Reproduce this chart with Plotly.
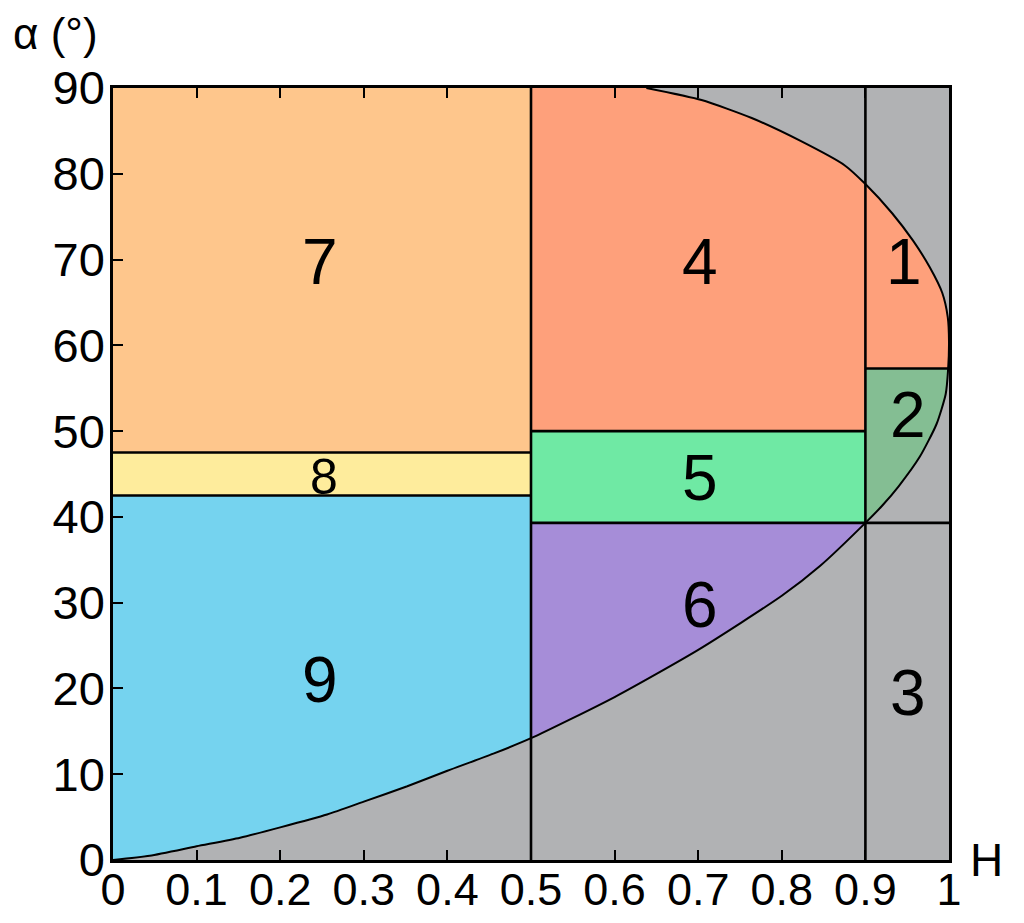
"""H-alpha classification plane with nine zones."""
import plotly.graph_objects as go

# feasible-region boundary
lower_h = [0.0, 0.044, 0.1, 0.152, 0.2, 0.256, 0.3, 0.352, 0.4, 0.455, 0.5, 0.6, 0.7,
           0.8, 0.846, 0.9, 0.92, 0.94, 0.965, 0.985, 0.996, 0.999, 1.0]
lower_a = [0.0, 0.5, 1.6, 2.6, 3.8, 5.3, 6.8, 8.6, 10.4, 12.4, 14.2, 19.0, 24.5,
           30.8, 34.3, 39.3, 41.3, 43.6, 47.0, 50.8, 54.3, 57.3, 60.5]
upper_h = [1.0, 0.9985, 0.992, 0.977, 0.957, 0.932, 0.9, 0.875, 0.823, 0.764, 0.704, 0.638]
upper_a = [60.5, 63.3, 66.1, 69.1, 72.2, 75.4, 78.8, 81.0, 83.8, 86.5, 88.6, 90.0]

# zone limits
h_mid, h_high = 0.5, 0.9
a_7_8, a_8_9 = 47.5, 42.5
a_4_5, a_5_6, a_1_2 = 50.0, 39.3, 57.3

zone_labels = ["1", "2", "3", "4", "5", "6", "7", "8", "9"]
label_h = [0.946, 0.951, 0.951, 0.702, 0.702, 0.702, 0.248, 0.252, 0.248]
label_a = [69.7, 51.9, 19.5, 69.7, 44.5, 29.7, 69.7, 44.6, 21.0]

x_ticks = [0, 0.1, 0.2, 0.3, 0.4, 0.5, 0.6, 0.7, 0.8, 0.9, 1.0]
x_tick_text = ["0", "0.1", "0.2", "0.3", "0.4", "0.5", "0.6", "0.7", "0.8", "0.9", "1"]
y_ticks = [0, 10, 20, 30, 40, 50, 60, 70, 80, 90]

GRAY = "#b1b2b4"
ORANGE = "#fec68c"
YELLOW = "#feec9c"
BLUE = "#75d3ef"
SALMON = "#fea07b"
GREEN = "#6fe9a4"
PURPLE = "#a68dd8"
DKGREEN = "#84be93"
FONT = "Liberation Sans, Arial, sans-serif"

i_mid = lower_h.index(h_mid)
i_high = lower_h.index(h_high)
i_12 = lower_a.index(a_1_2)
j_high = upper_h.index(h_high)

zones = [
    # zone 9
    ([0] + lower_h[:i_mid + 1] + [h_mid], [a_8_9] + lower_a[:i_mid + 1] + [a_8_9], BLUE),
    # zone 8
    ([0, h_mid, h_mid, 0], [a_8_9, a_8_9, a_7_8, a_7_8], YELLOW),
    # zone 7
    ([0, h_mid, h_mid, 0], [a_7_8, a_7_8, 90, 90], ORANGE),
    # zone 6
    (lower_h[i_mid:i_high + 1] + [h_mid], lower_a[i_mid:i_high + 1] + [a_5_6], PURPLE),
    # zone 5
    ([h_mid, h_high, h_high, h_mid], [a_5_6, a_5_6, a_4_5, a_4_5], GREEN),
    # zone 4
    ([h_mid, h_high] + upper_h[j_high:] + [h_mid], [a_4_5, a_4_5] + upper_a[j_high:] + [90], SALMON),
    # zone 2
    (lower_h[i_high:i_12 + 1] + [h_high], lower_a[i_high:i_12 + 1] + [a_1_2], DKGREEN),
    # zone 1
    (lower_h[i_12:] + upper_h[1:j_high + 1] + [h_high],
     lower_a[i_12:] + upper_a[1:j_high + 1] + [a_1_2], SALMON),
]

fig = go.Figure()
for zx, zy, col in zones:
    fig.add_trace(go.Scatter(
        x=zx, y=zy, mode="lines", fill="toself", fillcolor=col,
        line=dict(width=0, color=col), hoverinfo="skip", showlegend=False,
    ))

# boundary curve
fig.add_trace(go.Scatter(
    x=lower_h + upper_h[1:], y=lower_a + upper_a[1:], mode="lines",
    line=dict(color="black", width=2, shape="spline", smoothing=0.6),
    hoverinfo="skip", showlegend=False,
))

lw = 2.6
seg = [
    (h_mid, 0, h_mid, 90),
    (h_high, 0, h_high, 90),
    (0, a_7_8, h_mid, a_7_8),
    (0, a_8_9, h_mid, a_8_9),
    (h_mid, a_4_5, h_high, a_4_5),
    (h_mid, a_5_6, 1.0, a_5_6),
    (h_high, a_1_2, 1.0, a_1_2),
]
for x0, y0, x1, y1 in seg:
    fig.add_shape(type="line", x0=x0, y0=y0, x1=x1, y1=y1,
                  line=dict(color="black", width=lw), layer="above")

for t, hx, ay in zip(zone_labels, label_h, label_a):
    fig.add_annotation(x=hx, y=ay, text=t, showarrow=False,
                       font=dict(size=50 if t == "8" else 64, color="black", family=FONT))

fig.add_annotation(xref="paper", yref="paper", x=-0.069, y=1.071, text="α (°)",
                   xanchor="center", yanchor="middle",
                   showarrow=False, font=dict(size=44, color="black", family=FONT))
fig.add_annotation(xref="paper", yref="paper", x=1.045, y=0.0, text="H",
                   xanchor="center", yanchor="middle",
                   showarrow=False, font=dict(size=46, color="black", family=FONT))

fig.update_xaxes(
    range=[0, 1], tickvals=x_ticks, ticktext=x_tick_text,
    ticks="inside", ticklen=10, tickwidth=2, tickcolor="black",
    showline=True, linewidth=2.5, linecolor="black", mirror="ticks",
    showgrid=False, zeroline=False, automargin=False, ticklabelstandoff=-12,
    tickfont=dict(size=45, color="black", family=FONT),
)
fig.update_yaxes(
    range=[0, 90], tickvals=y_ticks,
    ticks="inside", ticklen=10, tickwidth=2, tickcolor="black",
    showline=True, linewidth=2.5, linecolor="black", mirror=True,
    showgrid=False, zeroline=False, automargin=False, ticklabelstandoff=-4,
    tickfont=dict(size=47, color="black", family=FONT),
)
fig.update_layout(
    width=1024, height=923,
    margin=dict(l=105, r=83, t=80, b=71),
    plot_bgcolor=GRAY, paper_bgcolor="white",
    font=dict(family=FONT),
)
fig.write_html("out.html")
